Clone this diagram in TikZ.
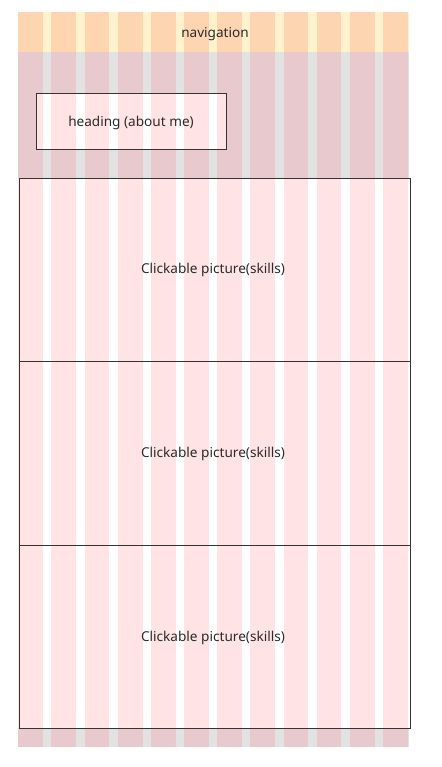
\documentclass[tikz,border=0pt]{standalone}
\usepackage{fontspec}
\setmainfont{Noto Sans}
\definecolor{navbg}{HTML}{FFF2CC}
\definecolor{navcol}{HTML}{FDD5B1}
\definecolor{hdbg}{HTML}{E2E2E2}
\definecolor{hdcol}{HTML}{E8CACE}
\definecolor{pinkcol}{HTML}{FFE3E5}
\definecolor{edge}{HTML}{333333}
\definecolor{txt}{HTML}{2B2B2B}
\newcommand\gridcols[3]{%
  \foreach \i in {0,...,11}{%
    \fill[#3] ({18.3+\i*33.15},#1) rectangle ({18.3+\i*33.15+24.8},#2);
  }}
\tikzset{
  boxedge/.style={draw=edge, line width=0.8pt},
  label/.style={text=txt, font=\fontsize{13.6}{16}\selectfont, inner sep=0pt}
}
\begin{document}
\begin{tikzpicture}[x=1pt,y=-1pt]
\useasboundingbox (0,0) rectangle (441,767);
\fill[white] (0,0) rectangle (441,767);
% navigation band
\fill[navbg] (18,12) rectangle (409,52);
\gridcols{12}{52}{navcol}
% header band
\fill[hdbg] (18,52) rectangle (409,178);
\gridcols{52}{178}{hdcol}
% bottom strip
\fill[hdbg] (18,728) rectangle (409,747);
\gridcols{728}{747}{hdcol}
% heading box
\fill[white] (36,93) rectangle (226,149);
\begin{scope}
  \clip (36,93) rectangle (226,149);
  \gridcols{93}{149}{pinkcol}
\end{scope}
\draw[boxedge] (36,93) rectangle (226,149);
% content boxes
\fill[white] (18.5,178) rectangle (409,728);
\gridcols{178}{728}{pinkcol}
\node[label] (nav) at (215,34) {navigation};
\node[label] (head) at (131,123) {heading (about me)};
\node[boxedge, minimum width=391pt, minimum height=183pt, anchor=north west, inner sep=0pt] (b1) at (18.5,178) {};
\node[boxedge, minimum width=391pt, minimum height=184pt, anchor=north west, inner sep=0pt] (b2) at (18.5,361) {};
\node[boxedge, minimum width=391pt, minimum height=183pt, anchor=north west, inner sep=0pt] (b3) at (18.5,545) {};
\node[label] (t1) at (213,270) {Clickable picture(skills)};
\node[label] (t2) at (213,454) {Clickable picture(skills)};
\node[label] (t3) at (213,638) {Clickable picture(skills)};
\end{tikzpicture}
\end{document}
